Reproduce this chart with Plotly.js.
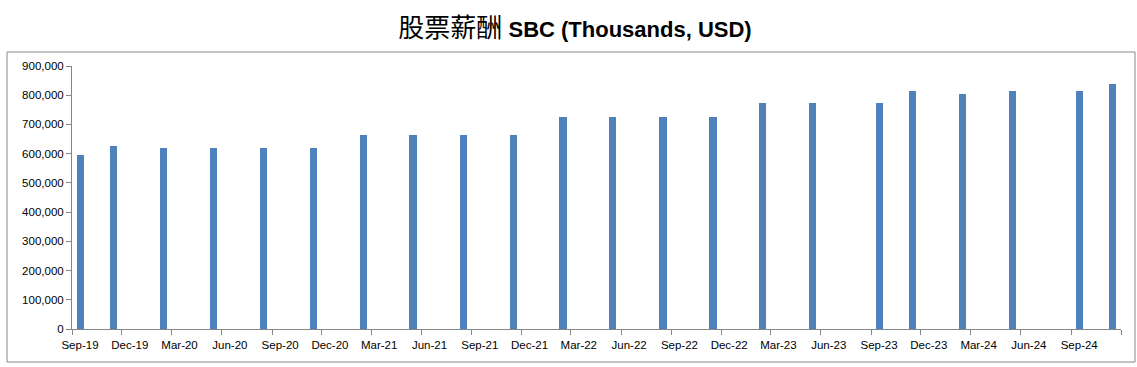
<!DOCTYPE html>
<html>
<head>
<meta charset="utf-8">
<script src="https://cdn.plot.ly/plotly-3.0.1.min.js"></script>
<style>
html,body{margin:0;padding:0;background:#fff;}
#chart{width:1137px;height:367px;}
</style>
</head>
<body>
<div id="chart"></div>
<script>
// Data (month of each reported value)
const periods = ['2019-09','2019-11','2020-02','2020-05','2020-08','2020-11','2021-02','2021-05','2021-08','2021-11',
                 '2022-02','2022-05','2022-08','2022-11','2023-02','2023-05','2023-09','2023-11','2024-02','2024-05','2024-09','2024-11'];
const sbcValues = [595000, 626000, 619000, 619000, 619000, 619000, 663000, 663000, 663000, 663000,
                   724000, 724000, 724000, 724000, 772000, 772000, 772000, 816000, 803000, 816000, 816000, 837000];
const tickDates = ['2019-09-01','2019-12-01','2020-03-01','2020-06-01','2020-09-01','2020-12-01','2021-03-01','2021-06-01',
                   '2021-09-01','2021-12-01','2022-03-01','2022-06-01','2022-09-01','2022-12-01','2023-03-01','2023-06-01',
                   '2023-09-01','2023-12-01','2024-03-01','2024-06-01','2024-09-01','2024-12-01'];
const tickLabels = ['Sep-19','Dec-19','Mar-20','Jun-20','Sep-20','Dec-20','Mar-21','Jun-21','Sep-21','Dec-21',
                    'Mar-22','Jun-22','Sep-22','Dec-22','Mar-23','Jun-23','Sep-23','Dec-23','Mar-24','Jun-24','Sep-24',''];
const titleCn = '股票薪酬';
const titleEn = 'SBC (Thousands, USD)';

// Layout constants (pixels)
const W = 1137, H = 367;
const M = {l: 72, r: 16, t: 66, b: 38};
const plotW = W - M.l - M.r, plotH = H - M.t - M.b;
const frame = {x0: 7, x1: 1135, y0: 52, y1: 362};
const axisGray = '#868686';
const tickFont = {family: 'Liberation Sans, Arial, sans-serif', size: 11.5, color: '#000000'};

const trace = {
  type: 'bar',
  x: periods.map(p => p + '-01'),
  y: sbcValues,
  xperiod: 'M1',
  xperiodalignment: 'middle',
  width: 13.5 * 86400000,
  marker: {color: '#4F81BD', line: {width: 0}},
  hoverinfo: 'x+y'
};

const layout = {
  width: W, height: H,
  margin: M,
  paper_bgcolor: '#ffffff',
  plot_bgcolor: '#ffffff',
  showlegend: false,
  title: {
    text: '<span style="font-family:\'Noto Sans CJK SC\';font-size:26px;font-weight:normal">' + titleCn + '</span> <b>' + titleEn + '</b>',
    font: {family: 'Liberation Sans, Arial, sans-serif', size: 22, color: '#000000'},
    x: 575 / W, xref: 'container', xanchor: 'center',
    y: 1 - 29 / H, yref: 'container', yanchor: 'middle'
  },
  xaxis: {
    type: 'date',
    range: [tickDates[0], tickDates[tickDates.length - 1]],
    tickmode: 'array',
    tickvals: tickDates,
    ticktext: tickLabels,
    ticks: 'outside', ticklen: 5, tickwidth: 1, tickcolor: axisGray,
    ticklabelshift: 8,
    showline: true, linecolor: axisGray, linewidth: 1,
    showgrid: false, zeroline: false,
    tickfont: tickFont,
    fixedrange: true
  },
  yaxis: {
    range: [0, 900000],
    tick0: 0, dtick: 100000,
    tickformat: ',d',
    ticks: 'outside', ticklen: 5, tickwidth: 1, tickcolor: axisGray,
    showline: true, linecolor: axisGray, linewidth: 1,
    showgrid: false, zeroline: false,
    tickfont: tickFont,
    fixedrange: true
  },
  shapes: [{
    type: 'rect', xref: 'paper', yref: 'paper', layer: 'above',
    x0: (frame.x0 - M.l) / plotW, x1: (frame.x1 - M.l) / plotW,
    y0: (H - M.b - frame.y1) / plotH, y1: (H - M.b - frame.y0) / plotH,
    line: {color: axisGray, width: 1}, fillcolor: 'rgba(0,0,0,0)'
  }],
  bargap: 0
};

Plotly.newPlot('chart', [trace], layout, {displayModeBar: false, staticPlot: true});
</script>
</body>
</html>
